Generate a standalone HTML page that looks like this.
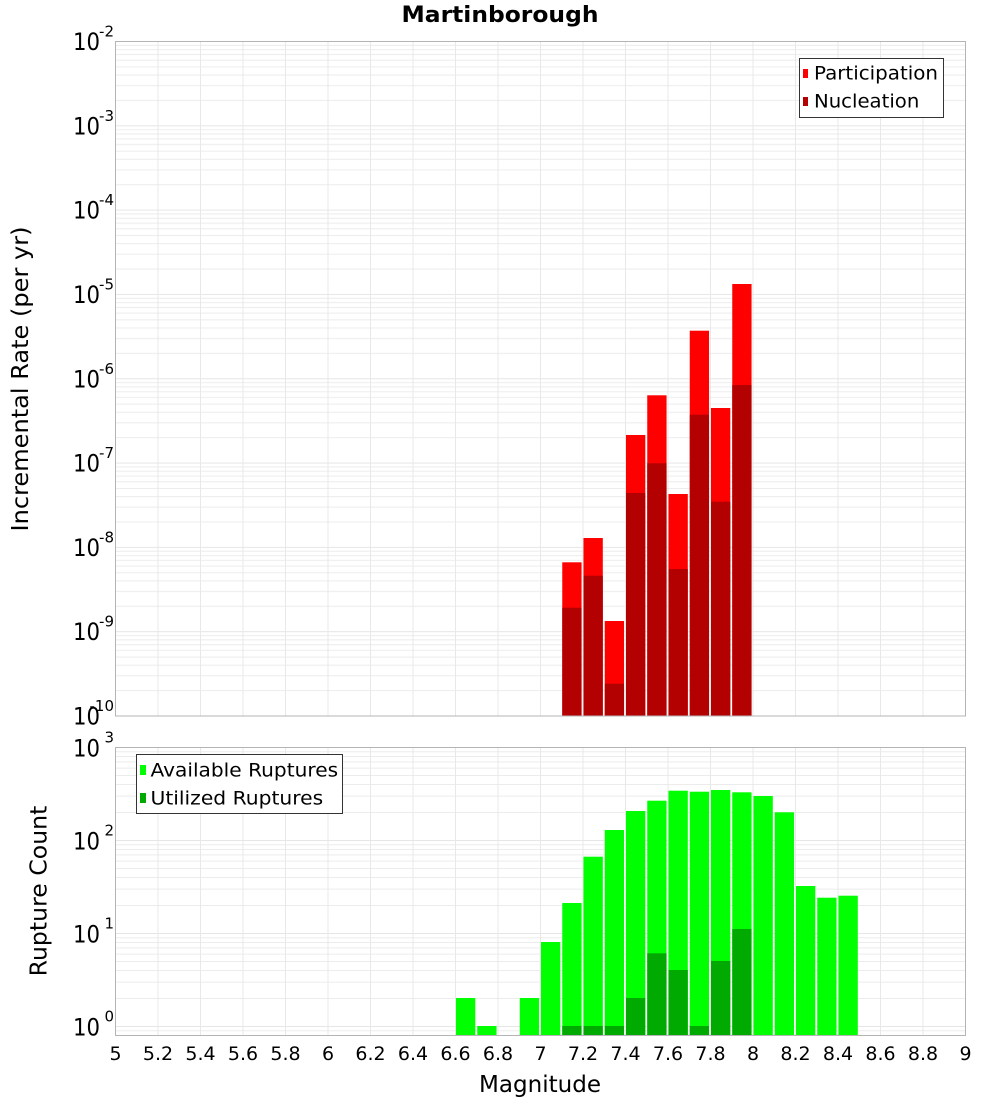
<!DOCTYPE html>
<html><head><meta charset="utf-8"><style>
html,body{margin:0;padding:0;background:#fff;}
svg{display:block;font-family:"DejaVu Sans","Liberation Sans",sans-serif;}
</style></head><body>
<svg width="1000" height="1100" viewBox="0 0 1000 1100" xmlns="http://www.w3.org/2000/svg">
<defs>
<pattern id="ht" x="0" y="41" width="1000" height="84.3125" patternUnits="userSpaceOnUse">
<rect x="0" y="0" width="1000" height="1" fill="#e6e6e6"/>
<rect x="0" y="3.86" width="1000" height="1" fill="#ececec"/>
<rect x="0" y="8.17" width="1000" height="1" fill="#ececec"/>
<rect x="0" y="13.06" width="1000" height="1" fill="#ececec"/>
<rect x="0" y="18.70" width="1000" height="1" fill="#ececec"/>
<rect x="0" y="25.38" width="1000" height="1" fill="#ececec"/>
<rect x="0" y="33.55" width="1000" height="1" fill="#ececec"/>
<rect x="0" y="44.08" width="1000" height="1" fill="#ececec"/>
<rect x="0" y="58.93" width="1000" height="1" fill="#ececec"/>
</pattern>
<pattern id="hb" x="0" y="747" width="1000" height="93" patternUnits="userSpaceOnUse">
<rect x="0" y="0" width="1000" height="1" fill="#e6e6e6"/>
<rect x="0" y="4.26" width="1000" height="1" fill="#ececec"/>
<rect x="0" y="9.01" width="1000" height="1" fill="#ececec"/>
<rect x="0" y="14.41" width="1000" height="1" fill="#ececec"/>
<rect x="0" y="20.63" width="1000" height="1" fill="#ececec"/>
<rect x="0" y="28.0" width="1000" height="1" fill="#ececec"/>
<rect x="0" y="37.01" width="1000" height="1" fill="#ececec"/>
<rect x="0" y="48.63" width="1000" height="1" fill="#ececec"/>
<rect x="0" y="65.0" width="1000" height="1" fill="#ececec"/>
</pattern>
<pattern id="vv" x="115" y="0" width="42.5" height="1100" patternUnits="userSpaceOnUse">
<rect x="0" y="0" width="1" height="1100" fill="#e8e8e8"/>
</pattern>
</defs>

<!-- Title -->
<text x="500" y="22" font-size="22" font-weight="bold" text-anchor="middle" textLength="197" lengthAdjust="spacingAndGlyphs">Martinborough</text>

<!-- TOP PLOT -->
<rect x="115.5" y="41.5" width="850" height="674.5" fill="#fff"/>
<rect x="115.5" y="41.5" width="850" height="674.5" fill="url(#ht)"/>
<rect x="115.5" y="41.5" width="850" height="674.5" fill="url(#vv)"/>

<g fill="#ff0000">
<rect x="562.25" y="562.3" width="19.3" height="153.7"/>
<rect x="583.5" y="538" width="19.3" height="178"/>
<rect x="604.75" y="621" width="19.3" height="95"/>
<rect x="626" y="435" width="19.3" height="281"/>
<rect x="647.25" y="395.3" width="19.3" height="320.7"/>
<rect x="668.5" y="494" width="19.3" height="222"/>
<rect x="689.75" y="330.7" width="19.3" height="385.3"/>
<rect x="711" y="408" width="19.3" height="308"/>
<rect x="732.25" y="284" width="19.3" height="432"/>
</g>
<g fill="#b30000">
<rect x="562.25" y="607.7" width="19.3" height="108.3"/>
<rect x="583.5" y="575.7" width="19.3" height="140.3"/>
<rect x="604.75" y="683.7" width="19.3" height="32.3"/>
<rect x="626" y="493" width="19.3" height="223"/>
<rect x="647.25" y="463.3" width="19.3" height="252.7"/>
<rect x="668.5" y="569" width="19.3" height="147"/>
<rect x="689.75" y="414.7" width="19.3" height="301.3"/>
<rect x="711" y="501.7" width="19.3" height="214.3"/>
<rect x="732.25" y="385" width="19.3" height="331"/>
</g>
<rect x="115.5" y="41.5" width="850" height="674.5" fill="none" stroke="#b4b4b4" stroke-width="1"/>

<!-- top legend -->
<rect x="799.5" y="58.5" width="144" height="59" fill="#fff" stroke="#333" stroke-width="1"/>
<rect x="803" y="69" width="5" height="9" fill="#ff0000"/>
<rect x="803" y="97" width="5" height="9" fill="#b30000"/>
<text x="814" y="79.3" font-size="19" textLength="124" lengthAdjust="spacingAndGlyphs">Participation</text>
<text x="814" y="107.7" font-size="19" textLength="105.3" lengthAdjust="spacingAndGlyphs">Nucleation</text>

<!-- top y ticks -->
<g font-size="24">
<text x="73" y="50" textLength="27" lengthAdjust="spacingAndGlyphs">10</text>
<text x="73" y="134.3" textLength="27" lengthAdjust="spacingAndGlyphs">10</text>
<text x="73" y="218.6" textLength="27" lengthAdjust="spacingAndGlyphs">10</text>
<text x="73" y="302.9" textLength="27" lengthAdjust="spacingAndGlyphs">10</text>
<text x="73" y="387.3" textLength="27" lengthAdjust="spacingAndGlyphs">10</text>
<text x="73" y="471.6" textLength="27" lengthAdjust="spacingAndGlyphs">10</text>
<text x="73" y="555.9" textLength="27" lengthAdjust="spacingAndGlyphs">10</text>
<text x="73" y="640.2" textLength="27" lengthAdjust="spacingAndGlyphs">10</text>
<text x="73" y="724.5" textLength="27" lengthAdjust="spacingAndGlyphs">10</text>
</g>
<g font-size="15" text-anchor="end">
<text x="114" y="36.5">-2</text>
<text x="114" y="120.8">-3</text>
<text x="114" y="205.1">-4</text>
<text x="114" y="289.4">-5</text>
<text x="114" y="373.8">-6</text>
<text x="114" y="458.1">-7</text>
<text x="114" y="542.4">-8</text>
<text x="114" y="626.7">-9</text>
<text x="114" y="711">-10</text>
</g>

<text transform="translate(28,379) rotate(-90)" font-size="23" text-anchor="middle" textLength="305" lengthAdjust="spacingAndGlyphs">Incremental Rate (per yr)</text>

<!-- BOTTOM PLOT -->
<rect x="115.5" y="747.5" width="850" height="288" fill="#fff"/>
<rect x="115.5" y="747.5" width="850" height="288" fill="url(#hb)"/>
<rect x="115.5" y="747.5" width="850" height="288" fill="url(#vv)"/>

<g fill="#00ff00">
<rect x="456" y="998" width="19.3" height="37.5"/>
<rect x="477.25" y="1026" width="19.3" height="9.5"/>
<rect x="519.75" y="998" width="19.3" height="37.5"/>
<rect x="541" y="942" width="19.3" height="93.5"/>
<rect x="562.25" y="903" width="19.3" height="132.5"/>
<rect x="583.5" y="856.7" width="19.3" height="178.8"/>
<rect x="604.75" y="830" width="19.3" height="205.5"/>
<rect x="626" y="811" width="19.3" height="224.5"/>
<rect x="647.25" y="800.7" width="19.3" height="234.8"/>
<rect x="668.5" y="790.7" width="19.3" height="244.8"/>
<rect x="689.75" y="791.7" width="19.3" height="243.8"/>
<rect x="711" y="790" width="19.3" height="245.5"/>
<rect x="732.25" y="792.3" width="19.3" height="243.2"/>
<rect x="753.5" y="796" width="19.3" height="239.5"/>
<rect x="774.75" y="812.3" width="19.3" height="223.2"/>
<rect x="796" y="886" width="19.3" height="149.5"/>
<rect x="817.25" y="897.7" width="19.3" height="137.8"/>
<rect x="838.5" y="895.7" width="19.3" height="139.8"/>
</g>
<g fill="#00aa00">
<rect x="562.25" y="1026" width="19.3" height="9.5"/>
<rect x="583.5" y="1026" width="19.3" height="9.5"/>
<rect x="604.75" y="1026" width="19.3" height="9.5"/>
<rect x="626" y="998" width="19.3" height="37.5"/>
<rect x="647.25" y="953.3" width="19.3" height="82.2"/>
<rect x="668.5" y="970" width="19.3" height="65.5"/>
<rect x="689.75" y="1026" width="19.3" height="9.5"/>
<rect x="711" y="961" width="19.3" height="74.5"/>
<rect x="732.25" y="929" width="19.3" height="106.5"/>
</g>
<rect x="115.5" y="747.5" width="850" height="288" fill="none" stroke="#b4b4b4" stroke-width="1"/>

<!-- bottom legend -->
<rect x="136.5" y="754.5" width="206" height="59" fill="#fff" stroke="#333" stroke-width="1"/>
<rect x="140" y="765" width="6" height="10" fill="#00ff00"/>
<rect x="140" y="793" width="6" height="10" fill="#00aa00"/>
<text x="150.5" y="776.7" font-size="19" textLength="187.6" lengthAdjust="spacingAndGlyphs">Available Ruptures</text>
<text x="150.5" y="804.3" font-size="19" textLength="172.7" lengthAdjust="spacingAndGlyphs">Utilized Ruptures</text>

<!-- bottom y ticks -->
<g font-size="24">
<text x="73" y="756.5" textLength="27" lengthAdjust="spacingAndGlyphs">10</text>
<text x="73" y="849.5" textLength="27" lengthAdjust="spacingAndGlyphs">10</text>
<text x="73" y="942.5" textLength="27" lengthAdjust="spacingAndGlyphs">10</text>
<text x="73" y="1035.5" textLength="27" lengthAdjust="spacingAndGlyphs">10</text>
</g>
<g font-size="15" text-anchor="end">
<text x="114" y="742.3">3</text>
<text x="114" y="835.3">2</text>
<text x="114" y="928.3">1</text>
<text x="114" y="1021.3">0</text>
</g>

<text transform="translate(46.5,891) rotate(-90)" font-size="23" text-anchor="middle" textLength="170.7" lengthAdjust="spacingAndGlyphs">Rupture Count</text>

<!-- x ticks -->
<g font-size="19" text-anchor="middle">
<text x="115.5" y="1060">5</text>
<text x="158" y="1060">5.2</text>
<text x="200.5" y="1060">5.4</text>
<text x="243" y="1060">5.6</text>
<text x="285.5" y="1060">5.8</text>
<text x="328" y="1060">6</text>
<text x="370.5" y="1060">6.2</text>
<text x="413" y="1060">6.4</text>
<text x="455.5" y="1060">6.6</text>
<text x="498" y="1060">6.8</text>
<text x="540.5" y="1060">7</text>
<text x="583" y="1060">7.2</text>
<text x="625.5" y="1060">7.4</text>
<text x="668" y="1060">7.6</text>
<text x="710.5" y="1060">7.8</text>
<text x="753" y="1060">8</text>
<text x="795.5" y="1060">8.2</text>
<text x="838" y="1060">8.4</text>
<text x="880.5" y="1060">8.6</text>
<text x="923" y="1060">8.8</text>
<text x="965.5" y="1060">9</text>
</g>
<text x="540" y="1092" font-size="23" text-anchor="middle" textLength="122" lengthAdjust="spacingAndGlyphs">Magnitude</text>
</svg>
</body></html>
